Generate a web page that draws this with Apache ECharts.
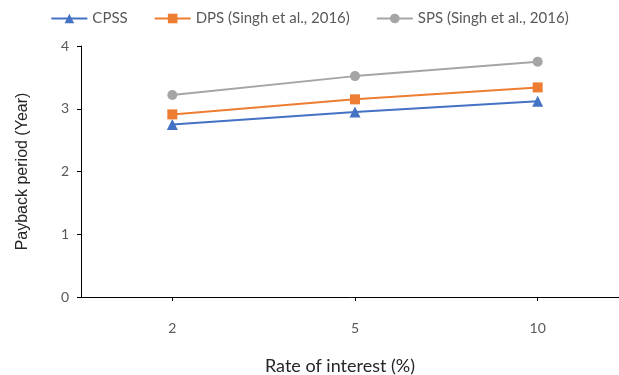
<!DOCTYPE html>
<html>
<head>
<meta charset="utf-8">
<script src="https://cdn.jsdelivr.net/npm/echarts@6/dist/echarts.min.js"></script>
<style>
  html, body { margin: 0; padding: 0; background: #fff; }
  #chart { width: 619px; height: 375px; }
</style>
</head>
<body>
<div id="chart"></div>
<script>
// Rate of interest categories (%)
const rates = ['2', '5', '10'];
// Payback period (years) for each system
const cpss = [2.75, 2.95, 3.12];
const dps = [2.91, 3.15, 3.34];
const sps = [3.22, 3.52, 3.75];
const seriesNames = ['CPSS', 'DPS (Singh et al., 2016)', 'SPS (Singh et al., 2016)'];

const FONT = 'Lato, "Open Sans", sans-serif';
const chart = echarts.init(document.getElementById('chart'));

function lineSeries(name, data, color, symbol, size) {
  return {
    name: name,
    type: 'line',
    data: data,
    symbol: symbol,
    symbolSize: size,
    showAllSymbol: true,
    lineStyle: { color: color, width: 2 },
    itemStyle: { color: color },
    emphasis: { disabled: true },
    z: 3
  };
}

chart.setOption({
  animation: false,
  textStyle: { fontFamily: FONT },
  legend: {
    top: 6,
    left: 'center',
    itemWidth: 36,
    itemHeight: 12,
    itemGap: 26,
    textStyle: { color: '#595959', fontSize: 15, fontFamily: FONT },
    data: seriesNames
  },
  grid: {
    left: 81, right: -10, top: 46, bottom: 78,
    containLabel: false,
    outerBoundsMode: 'none'
  },
  xAxis: {
    type: 'category',
    data: rates,
    boundaryGap: true,
    name: 'Rate of interest (%)',
    nameLocation: 'middle',
    nameGap: 60,
    // the axis runs past the right edge, so the title is nudged back toward the visible centre
    nameTextStyle: { color: '#262626', fontSize: 18, fontFamily: FONT, padding: [0, 30, 0, 0] },
    axisLine: { lineStyle: { color: '#000', width: 1 } },
    axisTick: { show: true, alignWithLabel: true, length: 4, lineStyle: { color: '#000' } },
    axisLabel: { color: '#595959', fontSize: 14, margin: 24, fontFamily: FONT },
    splitLine: { show: false }
  },
  yAxis: {
    type: 'value',
    min: 0,
    max: 4,
    interval: 1,
    name: 'Payback period (Year)',
    nameLocation: 'middle',
    nameGap: 50,
    nameRotate: 90,
    nameTextStyle: { color: '#262626', fontSize: 16, fontFamily: '"Liberation Sans", Arial, sans-serif' },
    axisLine: { show: true, lineStyle: { color: '#000', width: 1 } },
    axisTick: { show: true, length: 4, lineStyle: { color: '#000' } },
    axisLabel: { color: '#595959', fontSize: 14, margin: 12, fontFamily: FONT },
    splitLine: { show: false }
  },
  series: [
    lineSeries(seriesNames[0], cpss, '#4472C4', 'triangle', 11),
    lineSeries(seriesNames[1], dps, '#ED7D31', 'rect', 10),
    lineSeries(seriesNames[2], sps, '#A5A5A5', 'circle', 10)
  ]
});
</script>
</body>
</html>
